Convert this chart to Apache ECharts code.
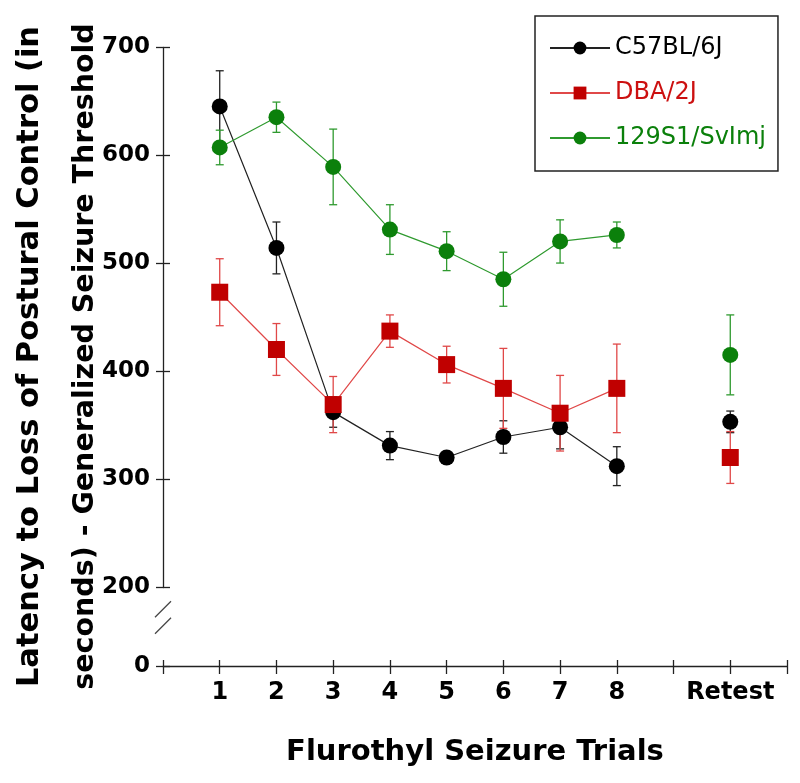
<!DOCTYPE html>
<html><head><meta charset="utf-8">
<script src="https://cdn.jsdelivr.net/npm/echarts@6/dist/echarts.min.js"></script>
<style>html,body{margin:0;padding:0;background:#fff}#c{width:800px;height:783px}</style>
</head><body><div id="c"></div>
<script>
// ---- data ----
const categories = ['', '1', '2', '3', '4', '5', '6', '7', '8', '', 'Retest', ''];
const trialIndex = [1, 2, 3, 4, 5, 6, 7, 8, 10];
const seriesNames = ['C57BL/6J', 'DBA/2J', '129S1/SvImj'];
const c57Mean = [645, 514, 362, 331, 320, 339, 348, 312, 353];
const c57Err  = [33, 24, 14, 13, 5, 15, 20, 18, 10];
const dbaMean = [473, 420, 369, 437, 406, 384, 361, 384, 320];
const dbaErr  = [31, 24, 26, 15, 17, 37, 35, 41, 24];
const svMean  = [607, 635, 589, 531, 511, 485, 520, 526, 415];
const svErr   = [16, 14, 35, 23, 18, 25, 20, 12, 37];
const yMin = 0, yMax = 700, yInterval = 100;
const yBreak = { start: 0, end: 200, gap: 73 };
const yTitle1 = 'Latency to Loss of Postural Control (in';
const yTitle2 = 'seconds) - Generalized Seizure Threshold';

// ---- styles ----
const markerColors = ['#000000', '#c00000', '#0b800b'];
const lineColors   = ['#222222', '#e04848', '#2f9a2f'];
const textColors   = ['#000000', '#cc1010', '#0b800b'];
const symbols      = ['circle', 'rect', 'circle'];
const symbolSizes  = [16, 17, 16];
const means = [c57Mean, dbaMean, svMean];
const errs  = [c57Err, dbaErr, svErr];

function lineData(m) {
  const arr = categories.map(() => null);
  trialIndex.forEach((ix, i) => { arr[ix] = m[i]; });
  return arr;
}
function errData(m, e) {
  return trialIndex.map((ix, i) => [ix, m[i] - e[i], m[i] + e[i]]);
}
function errRender(color) {
  return function (params, api) {
    const x = api.value(0), lo = api.value(1), hi = api.value(2);
    const p1 = api.coord([x, hi]), p2 = api.coord([x, lo]);
    const w = 4;
    const style = { stroke: color, lineWidth: 1.3 };
    return { type: 'group', children: [
      { type: 'line', shape: { x1: p1[0], y1: p1[1], x2: p2[0], y2: p2[1] }, style },
      { type: 'line', shape: { x1: p1[0] - w, y1: p1[1], x2: p1[0] + w, y2: p1[1] }, style },
      { type: 'line', shape: { x1: p2[0] - w, y1: p2[1], x2: p2[0] + w, y2: p2[1] }, style }
    ] };
  };
}

const series = [];
seriesNames.forEach((n, i) => {
  series.push({
    name: 'err' + i, type: 'custom', xAxisIndex: 0, yAxisIndex: 0, z: 2,
    renderItem: errRender(lineColors[i]), data: errData(means[i], errs[i]),
    encode: { x: 0, y: [1, 2] }, silent: true
  });
});
seriesNames.forEach((n, i) => {
  series.push({
    name: n, type: 'line', xAxisIndex: 0, yAxisIndex: 0, z: 3 + i,
    data: lineData(means[i]), connectNulls: false,
    symbol: symbols[i], symbolSize: symbolSizes[i], showSymbol: true,
    itemStyle: { color: markerColors[i] },
    lineStyle: { color: lineColors[i], width: 1.2 }
  });
});

const chart = echarts.init(document.getElementById('c'), null, { renderer: 'canvas' });
const yCommon = {
  type: 'value', min: yMin, max: yMax, interval: yInterval,
  breaks: [yBreak], breakArea: { show: false },
  splitLine: { show: false }
};
const titleFont = { color: '#000', fontFamily: 'DejaVu Sans', fontWeight: 'bold', lineHeight: 56 };
chart.setOption({
  animation: false,
  backgroundColor: '#ffffff',
  grid: { left: 163, right: 13, top: 47, bottom: 117, containLabel: false, outerBoundsMode: 'none' },
  legend: {
    orient: 'vertical', left: 535, top: 16,
    padding: [20, 12, 21, 14], itemGap: 21, itemWidth: 60, itemHeight: 16,
    borderColor: '#222', borderWidth: 1.5, backgroundColor: '#fff',
    textStyle: { fontFamily: 'DejaVu Sans', fontSize: 24 },
    data: seriesNames.map((n, i) => ({ name: n, textStyle: { color: textColors[i] } }))
  },
  xAxis: [{
    type: 'category', data: categories, boundaryGap: false,
    axisLine: { lineStyle: { color: '#222', width: 1.3 } },
    axisTick: { interval: 0, length: 8, lineStyle: { color: '#222', width: 1.3 } },
    axisLabel: { interval: 0, margin: 15, color: '#000', fontFamily: 'DejaVu Sans', fontWeight: 'bold', fontSize: 24 },
    name: 'Flurothyl Seizure Trials', nameLocation: 'middle', nameGap: 72, nameMoveOverlap: false,
    nameTextStyle: { color: '#000', fontFamily: 'DejaVu Sans', fontWeight: 'bold', fontSize: 29 }
  }, {
    type: 'category', data: categories, boundaryGap: false, position: 'bottom',
    axisLine: { show: false }, axisLabel: { show: false },
    axisTick: { interval: 0, inside: true, length: 6, lineStyle: { color: '#222', width: 1.3 } }
  }],
  yAxis: [Object.assign({}, yCommon, {
    axisLine: { show: true, lineStyle: { color: '#222', width: 1.3 } },
    axisTick: { show: true, length: 7, lineStyle: { color: '#222', width: 1.3 } },
    axisLabel: { margin: 13, color: '#000', fontFamily: 'DejaVu Sans', fontWeight: 'bold', fontSize: 23,
      formatter: v => (v % 100 === 0 ? String(v) : '') },
    name: '{a|' + yTitle1 + '}\n{b|' + yTitle2 + '}',
    nameLocation: 'middle', nameRotate: 90, nameGap: 49, nameMoveOverlap: false,
    nameTextStyle: Object.assign({ fontSize: 28.5, rich: {
      a: Object.assign({ fontSize: 30.5 }, titleFont),
      b: Object.assign({ fontSize: 28.5 }, titleFont)
    } }, titleFont)
  }), Object.assign({}, yCommon, {
    position: 'left',
    axisLine: { show: false }, axisLabel: { show: false },
    axisTick: { show: true, inside: true, length: 7, lineStyle: { color: '#222', width: 1.3 } }
  })],
  series: series
});

// axis-break slashes (decoration)
const p0 = chart.convertToPixel({ gridIndex: 0 }, [0, 0]);
const p200 = chart.convertToPixel({ gridIndex: 0 }, [0, 200]);
const ax = p0[0];
const span = p0[1] - p200[1];
const c1 = p200[1] + 0.28 * span, c2 = p200[1] + 0.49 * span;
const sl = { stroke: '#444', lineWidth: 1.3 };
chart.setOption({
  graphic: [
    { type: 'rect', shape: { x: ax - 3, y: c1, width: 6, height: c2 - c1 }, style: { fill: '#fff' }, z: 100 },
    { type: 'line', shape: { x1: ax - 8, y1: c1 + 8, x2: ax + 8, y2: c1 - 8 }, style: sl, z: 101 },
    { type: 'line', shape: { x1: ax - 8, y1: c2 + 8, x2: ax + 8, y2: c2 - 8 }, style: sl, z: 101 }
  ]
});
</script></body></html>
